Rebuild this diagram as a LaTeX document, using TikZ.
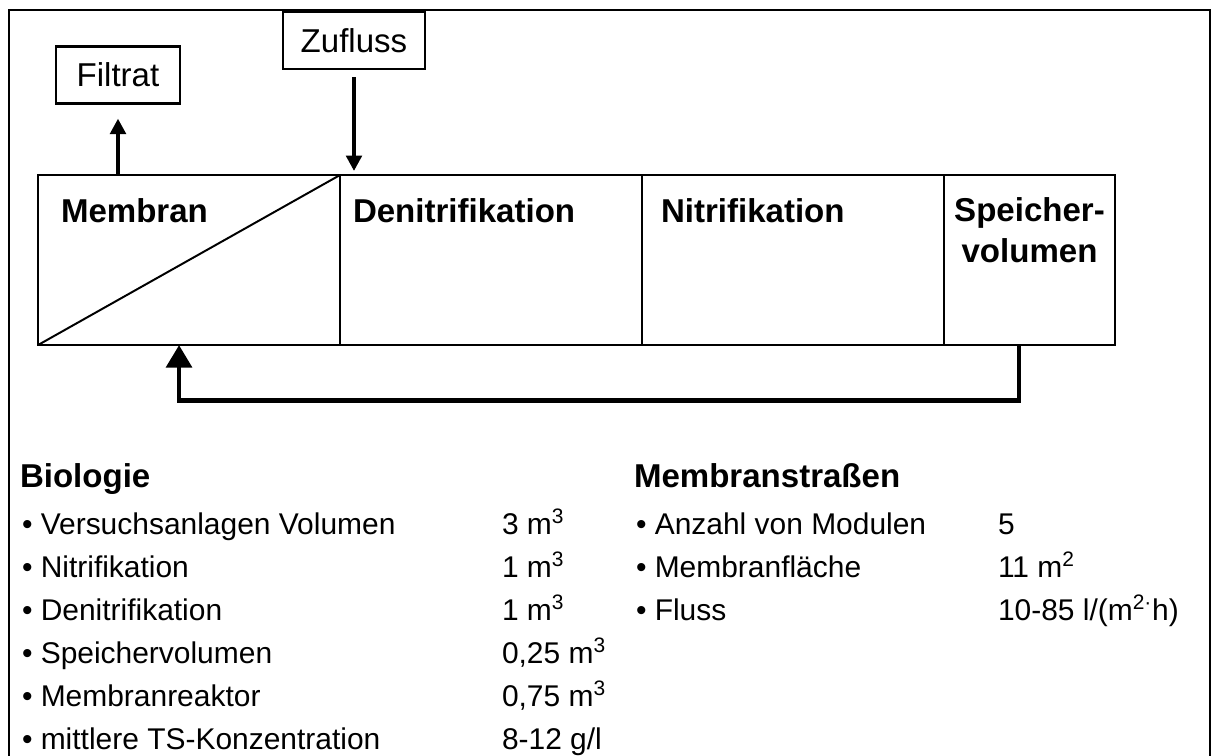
\documentclass[tikz,border=0pt]{standalone}
\usepackage{fontspec}
\setmainfont{Liberation Sans}
\usetikzlibrary{arrows.meta,positioning}

\begin{document}
\begin{tikzpicture}[x=0.025cm,y=-0.025cm,
	  every node/.style={inner sep=0pt,outer sep=0pt},
	  becken/.style={draw,line width=1.9pt,anchor=north west,minimum height=4.25cm},
	  etikett/.style={draw,line width=1.9pt,font=\fontsize{23.5}{28.5}\selectfont,minimum height=1.43cm},
	  titel/.style={anchor=base west,font=\fontsize{23.5}{28.5}\selectfont\bfseries},
	  eintrag/.style={anchor=base west,font=\fontsize{21.3}{25}\selectfont},
	  pfeil/.style={-{Triangle[length=11pt,width=11pt]},line width=3pt},
	  rueck/.style={-{Triangle[length=16pt,width=18pt]},line width=3.5pt}]

	  \useasboundingbox (0,0) rectangle (1213,756);
	  % Rahmen (unten offen)
	  \draw[line width=1.9pt] (9,756) -- (9,10) -- (1210,10) -- (1210,756);

	  % Becken der Anlage
	  \node[becken,minimum width=7.55cm] (membran) at (38,175) {};
	  \node[becken,minimum width=7.55cm] (denitri) at (340,175) {};
	  \node[becken,minimum width=7.55cm] (nitri) at (642,175) {};
	  \node[becken,minimum width=4.275cm] (speicher) at (944,175) {};
	  \draw[line width=1.4pt] (membran.south west) -- (membran.north east);

	  \node[titel] (membranText) at ([shift={(23,47)}]membran.north west) {Membran};
	  \node[titel] (denitriText) at ([shift={(13,47)}]denitri.north west) {Denitrifikation};
	  \node[titel] (nitriText) at ([shift={(19,47)}]nitri.north west) {Nitrifikation};
	  \node[titel,anchor=base,align=center] (speicherText) at ([shift={(0,87)}]speicher.north) {Speicher-\\volumen};

	  % Zu- und Ablauf
	  \node[etikett,minimum width=3.1cm] (filtrat) at (118,75) {Filtrat};
	  \node[etikett,minimum width=3.55cm] (zufluss) at (354,40.5) {Zufluss};

	  \draw[pfeil,shorten >=0.375cm] (membran.north -| filtrat.south) -- (filtrat.south);
	  \draw[pfeil,shorten <=0.2cm,shorten >=0.1cm] (zufluss.south) -- (zufluss.south |- membran.north);

	  % Rezirkulation
	  \coordinate (rueckAus) at ([xshift=-0.2625cm]speicher.south);
	  \coordinate (rueckEin) at ([xshift=3.525cm]membran.south west);
	  \draw[rueck] (rueckAus) -- ++(0,55) -| (rueckEin);

	  % Biologie
	  \node[titel] (bioKopf) at (20,487) {Biologie};
	  \node[eintrag] (bio1) at (22,534) {• Versuchsanlagen Volumen};
	  \node[eintrag] (bio2) at (22,577) {• Nitrifikation};
	  \node[eintrag] (bio3) at (22,620) {• Denitrifikation};
	  \node[eintrag] (bio4) at (22,663) {• Speichervolumen};
	  \node[eintrag] (bio5) at (22,706) {• Membranreaktor};
	  \node[eintrag] (bio6) at (22,749) {• mittlere TS-Konzentration};
	  \node[eintrag] (bioWert1) at (502,534) {3 m\textsuperscript{3}};
	  \node[eintrag] (bioWert2) at (502,577) {1 m\textsuperscript{3}};
	  \node[eintrag] (bioWert3) at (502,620) {1 m\textsuperscript{3}};
	  \node[eintrag] (bioWert4) at (502,663) {0,25 m\textsuperscript{3}};
	  \node[eintrag] (bioWert5) at (502,706) {0,75 m\textsuperscript{3}};
	  \node[eintrag] (bioWert6) at (502,749) {8-12 g/l};

	  % Membranstrassen
	  \node[titel] (memKopf) at (634,487) {Membranstraßen};
	  \node[eintrag] (mem1) at (636,534) {• Anzahl von Modulen};
	  \node[eintrag] (mem2) at (636,577) {• Membranfläche};
	  \node[eintrag] (mem3) at (636,620) {• Fluss};
	  \node[eintrag] (memWert1) at (998,534) {5};
	  \node[eintrag] (memWert2) at (998,577) {11 m\textsuperscript{2}};
	  \node[eintrag] (memWert3) at (998,620) {10-85 l/(m\textsuperscript{2·}h)};
\end{tikzpicture}
\end{document}
